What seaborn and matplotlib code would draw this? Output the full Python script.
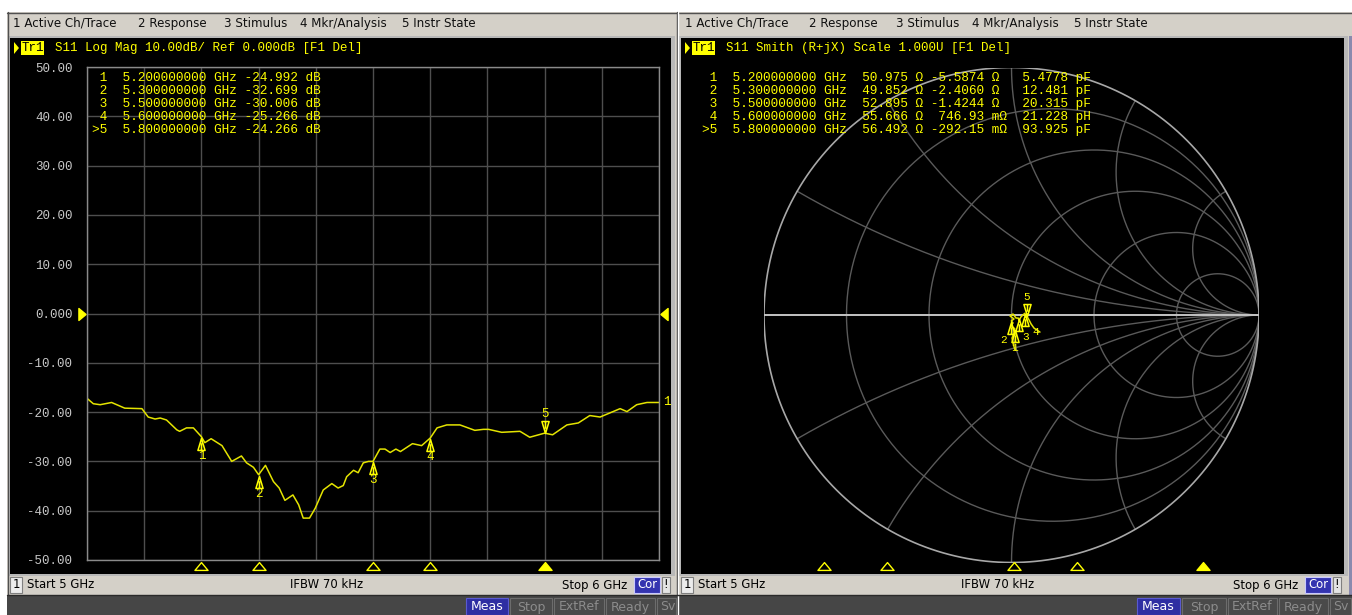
import numpy as np
import matplotlib
matplotlib.use("Agg")
import matplotlib.pyplot as plt
from matplotlib.patches import Rectangle, Polygon
from matplotlib.path import Path
from matplotlib.transforms import offset_copy
import seaborn as sns

W, H = 1352, 615

# ---- values ----
freq_ghz = [5.000, 5.011, 5.023, 5.043, 5.052, 5.066, 5.096, 5.107, 5.119, 5.128,
            5.139, 5.157, 5.162, 5.174, 5.186, 5.200, 5.206, 5.217, 5.236, 5.253,
            5.270, 5.279, 5.291, 5.300, 5.312, 5.326, 5.336, 5.346, 5.360, 5.370,
            5.378, 5.389, 5.399, 5.413, 5.428, 5.439, 5.448, 5.454, 5.466, 5.474,
            5.483, 5.492, 5.500, 5.512, 5.521, 5.530, 5.540, 5.548, 5.569, 5.585,
            5.600, 5.612, 5.629, 5.652, 5.678, 5.693, 5.702, 5.725, 5.757, 5.774,
            5.800, 5.814, 5.839, 5.859, 5.879, 5.897, 5.932, 5.944, 5.961, 5.979,
            6.000]
s11_db = [-17.2, -18.3, -18.5, -18.05, -18.5, -19.2, -19.3, -21.0, -21.4, -21.2,
          -21.6, -23.6, -23.9, -23.2, -23.2, -24.99, -26.2, -25.4, -26.8, -30.0,
          -28.9, -30.3, -31.2, -32.7, -30.8, -34.1, -35.4, -37.9, -36.8, -38.8,
          -41.5, -41.5, -39.5, -35.8, -34.5, -35.4, -34.9, -33.1, -31.8, -32.3,
          -30.3, -30.0, -30.0, -27.5, -27.5, -28.2, -27.5, -28.0, -26.4, -26.8,
          -25.27, -23.2, -22.6, -22.6, -23.7, -23.5, -23.5, -24.1, -23.9, -25.1,
          -24.27, -24.6, -22.6, -22.2, -20.7, -21.0, -19.3, -19.9, -18.5, -18.05,
          -18.05]

# reflection coefficient path of the Smith trace (real, imag)
smith_re = [0.014, 0.006, 0.002, 0.010, 0.013, -0.002, 0.006, -0.001, 0.010, -0.006,
            0.006, 0.018, 0.028, 0.030, 0.038, 0.046, 0.054, 0.059, 0.063, 0.061,
            0.071, 0.079, 0.091, 0.103, 0.115]
smith_im = [-0.141, -0.113, -0.093, -0.073, -0.055, -0.044, -0.032, -0.024, -0.016, -0.004,
            0.004, -0.012, -0.013, -0.024, -0.008, 0.000, 0.007, -0.012, 0.004, -0.003,
            -0.020, -0.036, -0.053, -0.061, -0.069]

marker_ids = ["1", "2", "3", "4", ">5"]
marker_freq = [5.2, 5.3, 5.5, 5.6, 5.8]
marker_freq_text = ["5.200000000", "5.300000000", "5.500000000", "5.600000000", "5.800000000"]
marker_db = [-24.992, -32.699, -30.006, -25.266, -24.266]
marker_r = [50.975, 49.852, 52.895, 55.666, 56.492]
marker_x = [-5.5874, -2.4060, -1.4244, 0.74693, -0.29215]
marker_x_text = ["-5.5874", "-2.4060", "-1.4244", "746.93", "-292.15"]
marker_x_unit = ["Ω", "Ω", "Ω", "mΩ", "mΩ"]
marker_lc_text = ["5.4778", "12.481", "20.315", "21.228", "93.925"]
marker_lc_unit = ["pF", "pF", "pF", "pH", "pF"]
active_marker = 4

y_ticks = [50, 40, 30, 20, 10, 0, -10, -20, -30, -40, -50]
y_tick_labels = ["50.00", "40.00", "30.00", "20.00", "10.00", "0.000",
                 "-10.00", "-20.00", "-30.00", "-40.00", "-50.00"]

smith_r_circles = [0.2, 0.5, 1.0, 2.0, 5.0]
smith_x_arcs = [0.268, 0.577, 1.0, 1.732, 3.732]

menu_items = ["1 Active Ch/Trace", "2 Response", "3 Stimulus", "4 Mkr/Analysis", "5 Instr State"]
left_title = "S11 Log Mag 10.00dB/ Ref 0.000dB [F1 Del]"
right_title = "S11 Smith (R+jX) Scale 1.000U [F1 Del]"
status_texts = ["Start 5 GHz", "IFBW 70 kHz", "Stop 6 GHz"]
button_names = ["Meas", "Stop", "ExtRef", "Ready", "Sv"]

# ---- look ----
YELLOW = "#ffff00"
TRACE = "#e4e400"
GRID = "#4e4e4e"
WIN = "#d4d0c8"
MONO = ["Liberation Mono", "DejaVu Sans Mono"]
SANS = ["DejaVu Sans"]
MONO_SIZE = 9.2

sns.set_theme(style="dark")
plt.rcParams["font.family"] = SANS


def frac(x0, y0, x1, y1):
    """pixel box -> figure fraction rect"""
    return [x0 / W, 1 - y1 / H, (x1 - x0) / W, (y1 - y0) / H]


def box(ax, x0, y0, x1, y1, fc, ec="none", lw=0.0, z=1):
    ax.add_patch(Rectangle((x0, y0), x1 - x0, y1 - y0, facecolor=fc,
                           edgecolor=ec, linewidth=lw, zorder=z))


fig = plt.figure(figsize=(W / 100, H / 100), dpi=100)
fig.patch.set_facecolor("white")

bg = fig.add_axes([0, 0, 1, 1], zorder=0)
bg.set_xlim(0, W)
bg.set_ylim(H, 0)
bg.axis("off")

fg = fig.add_axes([0, 0, 1, 1], zorder=10)
fg.set_xlim(0, W)
fg.set_ylim(H, 0)
fg.axis("off")

# window chrome
box(bg, 7, 12, W, H, WIN)
bg.plot([7, W], [12.5, 12.5], color="#505050", lw=1)
bg.plot([7.5, 7.5], [12, H], color="#505050", lw=1)
for x0, x1 in [(8, 675), (679, 1348)]:
    box(bg, x0, 36, x1, 576, "#b8b8b8")
    box(bg, x0 + 2, 38, x1 - 4, 574, "black")
bg.plot([676.5, 676.5], [12, H], color="#404040", lw=1, zorder=3)
bg.plot([677.5, 677.5], [12, H], color="white", lw=1, zorder=3)
box(bg, 1349, 36, W, H, "#8a8aae", z=2)
box(bg, 7, 595, W, H, "#464646", z=2)
bg.plot([7, W], [595, 595], color="#2a2a2a", lw=1, zorder=3)

# menu bars
menu_x = [[13, 138, 224, 300, 402], [685, 809, 896, 972, 1074]]
for xs in menu_x:
    for x, s in zip(xs, menu_items):
        fg.text(x, 23.5, s, fontsize=8.6, va="center", ha="left", color="#101010")

# titles with Tr1 tag
for (tx, title) in [(8, left_title), (679, right_title)]:
    fg.add_patch(Polygon([[tx + 6, 42], [tx + 11, 48], [tx + 6, 54]], closed=True,
                         facecolor=YELLOW, edgecolor="none"))
    box(fg, tx + 13, 41, tx + 36, 55, YELLOW, z=2)
    fg.text(tx + 24.5, 48, "Tr1", family=MONO, fontsize=9, color="black",
            ha="center", va="center", zorder=3)
    fg.text(tx + 47, 48, title, family=MONO, fontsize=9, color=YELLOW,
            ha="left", va="center")

# status bars
for off, mid_c, stop_r, cor0 in [(0, 327, 627, 634), (671, 998, 1298, 1305)]:
    box(bg, 10 + off, 577, 22 + off, 593, "#ececec", ec="#808080", lw=0.8, z=2)
    fg.text(16 + off, 585, "1", fontsize=8.4, ha="center", va="center", color="black")
    fg.text(27 + off, 585, status_texts[0], fontsize=8.4, ha="left", va="center", color="black")
    fg.text(mid_c, 585, status_texts[1], fontsize=8.4, ha="center", va="center", color="black")
    fg.text(stop_r, 585, status_texts[2], fontsize=8.4, ha="right", va="center", color="black")
    box(bg, cor0, 577, cor0 + 26, 593, "#3434b0", ec="#c8c8ff", lw=0.8, z=2)
    fg.text(cor0 + 13, 585, "Cor", fontsize=8.4, ha="center", va="center", color="white")
    box(bg, cor0 + 28, 577, cor0 + 36, 593, "#e4e4e4", ec="#808080", lw=0.8, z=2)
    fg.text(cor0 + 32, 585, "!", fontsize=8.4, ha="center", va="center", color="black")

# instrument state buttons
button_edges = [[465, 509, 553, 605, 656, 677], [1136, 1181, 1227, 1278, 1329, 1352]]
for edges in button_edges:
    for i, name in enumerate(button_names):
        x0, x1 = edges[i] + 1, edges[i + 1] - 1
        if i == 0:
            box(bg, x0, 598, x1, H, "#2e2ea2", ec="#5a5ad0", lw=0.8, z=4)
            fg.text((x0 + x1) / 2, 607, name, fontsize=9, ha="center", va="center", color="white")
        else:
            box(bg, x0, 598, x1, H, "#4a4a4a", ec="#6c6c6c", lw=0.8, z=4)
            if name == "Sv":
                fg.text(x0 + 3, 607, name, fontsize=9, ha="left", va="center", color="#8c8c8c")
            else:
                fg.text((x0 + x1) / 2, 607, name, fontsize=9, ha="center", va="center", color="#8c8c8c")

# marker glyphs
up_mark = Path([(0, 1), (-0.6, -1), (0.6, -1), (0, 1), (0, 0.2), (0, -1)],
               [Path.MOVETO, Path.LINETO, Path.LINETO, Path.CLOSEPOLY, Path.MOVETO, Path.LINETO])
down_mark = Path([(0, -1), (-0.6, 1), (0.6, 1), (0, -1), (0, -0.2), (0, 1)],
                 [Path.MOVETO, Path.LINETO, Path.LINETO, Path.CLOSEPOLY, Path.MOVETO, Path.LINETO])
stim_mark = Path([(0, 0.6), (-1, -0.6), (1, -0.6), (0, 0.6)],
                 [Path.MOVETO, Path.LINETO, Path.LINETO, Path.CLOSEPOLY])
ref_right = Path([(0.6, 0), (-0.6, 1), (-0.6, -1), (0.6, 0)],
                 [Path.MOVETO, Path.LINETO, Path.LINETO, Path.CLOSEPOLY])
ref_left = Path([(-0.6, 0), (0.6, 1), (0.6, -1), (-0.6, 0)],
                [Path.MOVETO, Path.LINETO, Path.LINETO, Path.CLOSEPOLY])


def draw_markers(ax, xs, ys, label_dx=None, label_size=9):
    """marker glyphs on the trace; label_dx nudges crowded labels sideways (px)"""
    if label_dx is None:
        label_dx = [0] * len(xs)
    for i, (mx, my) in enumerate(zip(xs, ys)):
        label = str(i + 1)
        dx = label_dx[i] * 0.72
        if i == active_marker:
            tr = offset_copy(ax.transData, fig=fig, x=0, y=6, units="dots")
            ax.plot([mx], [my], marker=down_mark, ms=8.6, mfc="none", mec=YELLOW,
                    mew=1.1, transform=tr, clip_on=False, zorder=5)
            ax.annotate(label, (mx, my), xytext=(dx, 19 * 0.72), textcoords="offset points",
                        ha="center", va="center", family=MONO, fontsize=label_size,
                        color=YELLOW, annotation_clip=False, zorder=5)
        else:
            tr = offset_copy(ax.transData, fig=fig, x=0, y=-7, units="dots")
            ax.plot([mx], [my], marker=up_mark, ms=8.6, mfc="none", mec=YELLOW,
                    mew=1.1, transform=tr, clip_on=False, zorder=5)
            ax.annotate(label, (mx, my), xytext=(dx, -19 * 0.72), textcoords="offset points",
                        ha="center", va="center", family=MONO, fontsize=label_size,
                        color=YELLOW, annotation_clip=False, zorder=5)


def draw_stimulus(ax, yfrac):
    tr = ax.get_xaxis_transform()
    for i, f in enumerate(marker_freq):
        filled = i == active_marker
        ax.plot([f], [yfrac], marker=stim_mark, ms=9.4, transform=tr, clip_on=False,
                mfc=YELLOW if filled else "none", mec=YELLOW, mew=1, zorder=5)


# ---- left: log magnitude ----
ax = fig.add_axes(frac(87, 67, 659, 560), zorder=2)
ax.set_facecolor("none")
sns.lineplot(x=freq_ghz, y=s11_db, ax=ax, color=TRACE, lw=1.1, sort=False, estimator=None)
ax.set_xlim(5, 6)
ax.set_ylim(-50, 50)
ax.set_xticks(np.linspace(5, 6, 11))
ax.set_xticklabels([])
ax.set_yticks(y_ticks)
ax.set_yticklabels(y_tick_labels, family=MONO, fontsize=9, color="#c8c8c8")
ax.tick_params(length=0, pad=10.5)
ax.grid(True, color=GRID, lw=1)
for sp in ax.spines.values():
    sp.set_color("#8a8a8a")
    sp.set_linewidth(1)
ax.set_xlabel("")
ax.set_ylabel("")
draw_markers(ax, marker_freq, marker_db)
draw_stimulus(ax, -0.0122)
ytr = ax.get_yaxis_transform()
ax.plot([-0.0087], [0], marker=ref_right, ms=8.6, color=YELLOW, transform=ytr, clip_on=False)
ax.plot([1.0087], [0], marker=ref_left, ms=8.6, color=YELLOW, transform=ytr, clip_on=False)
ax.annotate("1", (freq_ghz[-1], s11_db[-1]), xytext=(3, 0), textcoords="offset points",
            ha="left", va="center", family=MONO, fontsize=9, color=YELLOW, annotation_clip=False)

for i in range(len(marker_ids)):
    row = f"{marker_ids[i]:>2}  {marker_freq_text[i]} GHz {marker_db[i]:.3f} dB"
    fg.text(92, 78 + 13 * i, row, family=MONO, fontsize=MONO_SIZE, color=YELLOW,
            ha="left", va="center")

# ---- right: Smith chart ----
sx = fig.add_axes(frac(764, 67.5, 1259, 562.5), zorder=2)
sx.set_facecolor("none")
sx.set_xlim(-1, 1)
sx.set_ylim(-1, 1)
sx.axis("off")
th = np.linspace(0, 2 * np.pi, 500)
for r in smith_r_circles:
    c, rad = r / (1 + r), 1 / (1 + r)
    sx.plot(c + rad * np.cos(th), rad * np.sin(th), color="#5a5a5a", lw=1)
rr = np.concatenate([[0], np.geomspace(1e-3, 1e4, 600)])
for xv in smith_x_arcs:
    for sgn in (1, -1):
        z = rr + 1j * sgn * xv
        g = (z - 1) / (z + 1)
        sx.plot(g.real, g.imag, color="#5a5a5a", lw=1)
sx.plot(np.cos(th), np.sin(th), color="#a8a8a8", lw=1.2)
sx.plot([-1, 1], [0, 0], color="#c4c4c4", lw=1.4)
sns.lineplot(x=smith_re, y=smith_im, ax=sx, color=TRACE, lw=1.1, sort=False, estimator=None)
sx.set_xlabel("")
sx.set_ylabel("")

zm = (np.array(marker_r) + 1j * np.array(marker_x)) / 50.0
gm = (zm - 1) / (zm + 1)
draw_markers(sx, gm.real, gm.imag, label_dx=[0, -8, 7, 11, 0], label_size=8)

st = fig.add_axes(frac(697, 560, 1330, 572), zorder=2)
st.set_xlim(5, 6)
st.set_ylim(0, 1)
st.axis("off")
draw_stimulus(st, 0.5)

for i in range(len(marker_ids)):
    row = (f"{marker_ids[i]:>2}  {marker_freq_text[i]} GHz  {marker_r[i]:.3f} Ω "
           f"{marker_x_text[i]:>7} {marker_x_unit[i]:<2}  {marker_lc_text[i]} {marker_lc_unit[i]}")
    fg.text(702, 78 + 13 * i, row, family=MONO, fontsize=MONO_SIZE, color=YELLOW,
            ha="left", va="center")

fig.savefig("out.png", dpi=100, facecolor=fig.get_facecolor())
